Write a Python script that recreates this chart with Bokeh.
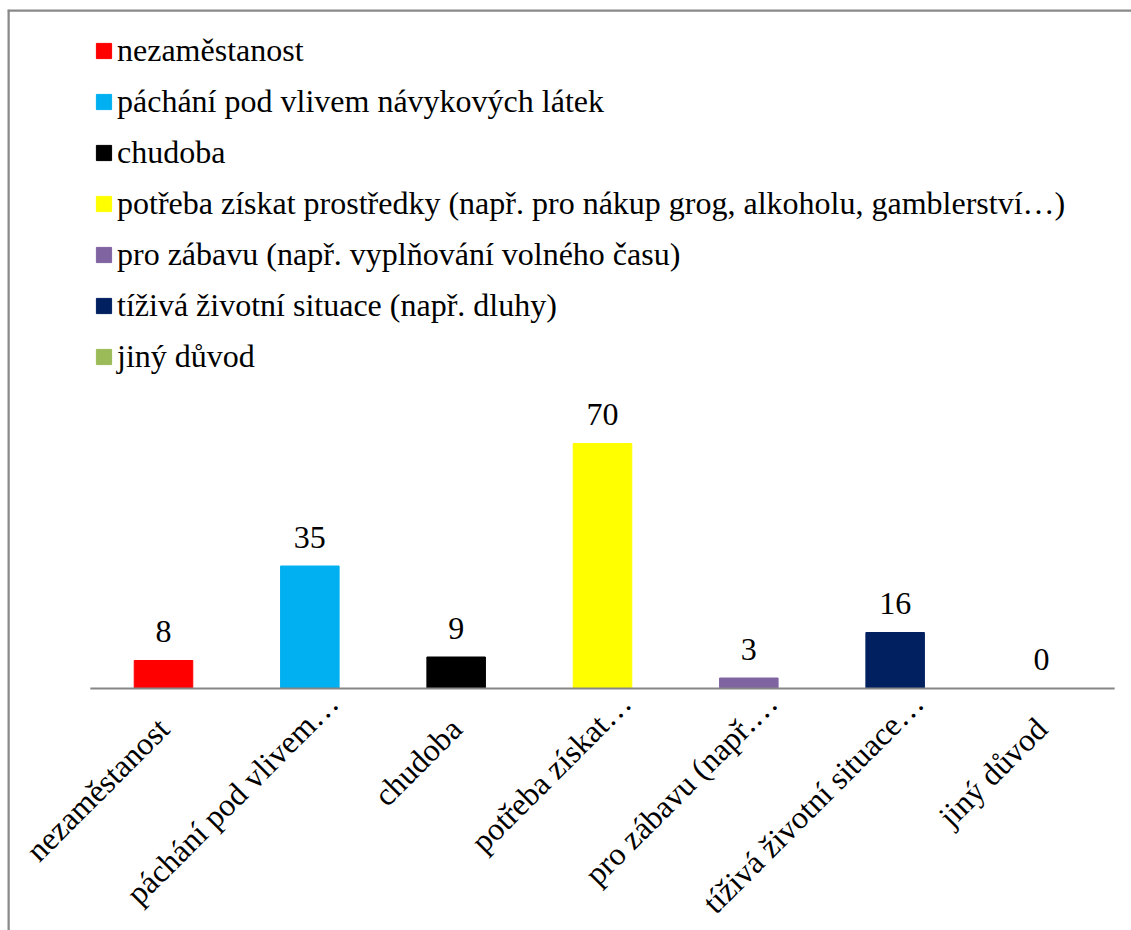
from bokeh.plotting import figure
from bokeh.models import ColumnDataSource, Range1d, Legend, LegendItem
from bokeh.core.properties import value
from bokeh.embed import file_html
from bokeh.resources import INLINE
import math

# ---- data ----
categories = [
    "nezaměstanost",
    "páchání pod vlivem návykových látek",
    "chudoba",
    "potřeba získat prostředky (např. pro nákup grog, alkoholu, gamblerství…)",
    "pro zábavu (např. vyplňování volného času)",
    "tíživá životní situace (např. dluhy)",
    "jiný důvod",
]
tick_labels = [
    "nezaměstanost",
    "páchání pod vlivem…",
    "chudoba",
    "potřeba získat…",
    "pro zábavu (např.…",
    "tíživá životní situace…",
    "jiný důvod",
]
counts = [8, 35, 9, 70, 3, 16, 0]
colors = ["#FF0000", "#00B0F0", "#000000", "#FFFF00", "#8064A2", "#002060", "#9BBB59"]

# ---- styling ----
FONT = "Liberation Serif"
FS = "32px"
GRAY = "#898989"

n = len(categories)
xs = list(range(n))

# label anchor offsets (screen px): truncated labels sit further along the text direction
truncated = [lbl.endswith("…") for lbl in tick_labels]
lab_dx = [23 if t else 0 for t in truncated]
lab_dy = [9 if t else 35 for t in truncated]

src = ColumnDataSource(dict(x=xs, top=counts, name=categories, color=colors,
                            label=[str(v) for v in counts], tick=tick_labels,
                            zero=[0] * n, dx=lab_dx, dy=lab_dy))

px_per_cat = 146.33
px_per_unit = 3.5
W, H = 1131, 930
left_b, top_b = 7, 9
x0_px, base_px = 163.0, 688.0
x_start = (left_b - x0_px) / px_per_cat
x_end = (W - x0_px) / px_per_cat
y_end = (base_px - top_b) / px_per_unit
y_start = -(H - base_px) / px_per_unit

p = figure(width=W, height=H, x_range=Range1d(x_start, x_end), y_range=Range1d(y_start, y_end),
           output_backend="svg", toolbar_location=None,
           min_border_left=left_b, min_border_right=0, min_border_top=top_b, min_border_bottom=0)
p.outline_line_color = None
p.background_fill_color = "white"
p.border_fill_color = "white"
p.xgrid.visible = False
p.ygrid.visible = False
p.xaxis.visible = False
p.yaxis.visible = False

# chart border (left & top edges of the chart area)
p.segment(x0=[x_start, x_start], y0=[y_start, y_end], x1=[x_start, x_end], y1=[y_end, y_end],
          line_color=GRAY, line_width=4.5)

r = p.vbar(x="x", top="top", width=0.4, color="color", source=src)

# category baseline
p.segment(x0=[-0.5], y0=[0], x1=[n - 0.5], y1=[0], line_color="#868686", line_width=1.8)

# value labels
p.text(x="x", y="top", text="label", source=src, text_align="center", text_baseline="alphabetic",
       y_offset=-29, text_font=value(FONT), text_font_size=FS, text_color="black")

# rotated category labels
p.text(x="x", y="zero", text="tick", source=src, angle=math.pi / 4,
       text_align="right", text_baseline="alphabetic", x_offset="dx", y_offset="dy",
       text_font=value(FONT), text_font_size=FS, text_color="black")

# legend (location = bottom-left corner, measured from frame bottom-left)
item_h, item_gap = 38, 13
leg_top = 31.5  # canvas px
leg_h = n * item_h + (n - 1) * item_gap
items = [LegendItem(label=categories[i], renderers=[r], index=i) for i in range(n)]
legend = Legend(items=items, location=(87, H - (leg_top + leg_h)), padding=0, margin=0,
                border_line_color=None, background_fill_alpha=0,
                glyph_width=19, glyph_height=19, label_standoff=4,
                label_height=item_h, spacing=item_gap,
                label_text_font=FONT, label_text_font_size=FS, label_text_color="black")
p.add_layout(legend, "center")

open("out.html", "w").write(file_html(p, INLINE))
